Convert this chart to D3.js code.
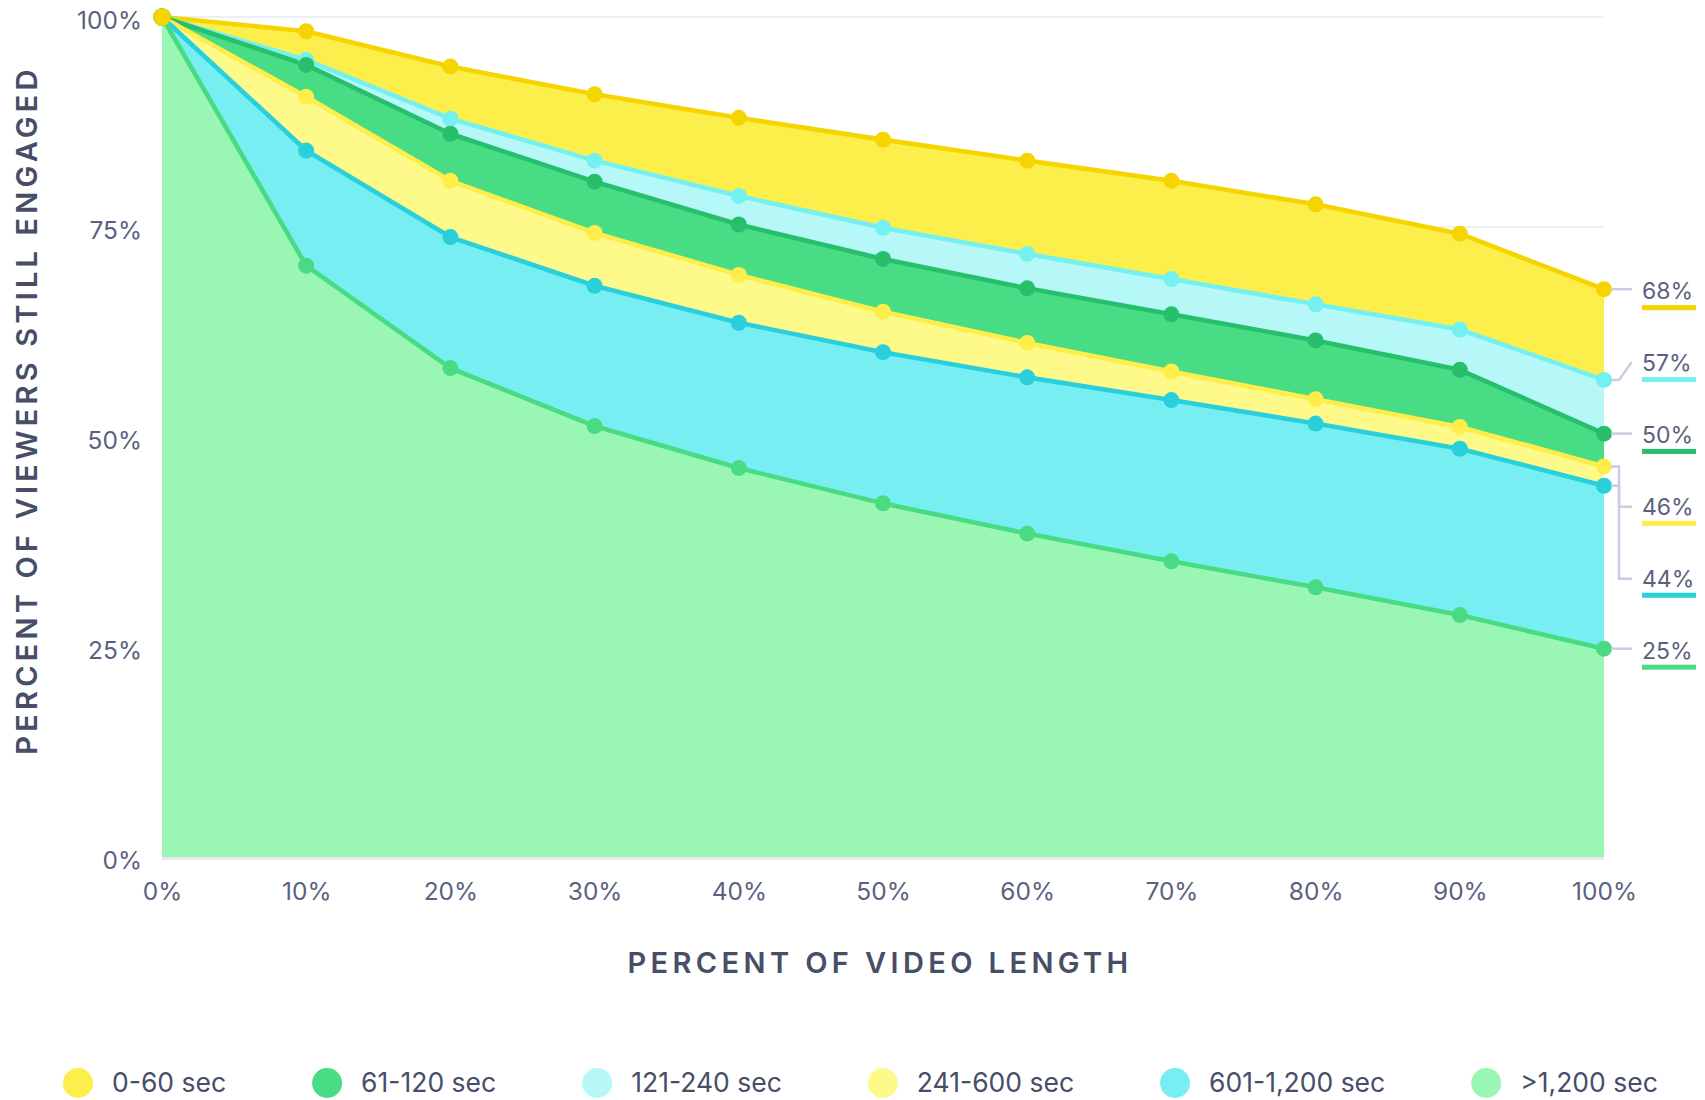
<!DOCTYPE html>
<html>
<head>
<meta charset="utf-8">
<script src="https://cdn.jsdelivr.net/npm/d3@7"></script>
<style>
  html, body { margin: 0; padding: 0; background: #ffffff; }
  svg { display: block; font-family: "Inter", "Lato", sans-serif; }
</style>
</head>
<body>
<svg id="chart" width="1705" height="1100"></svg>
<script>
// ---------------- data ----------------
const xValues = [0, 10, 20, 30, 40, 50, 60, 70, 80, 90, 100];
const xTickLabels = ["0%", "10%", "20%", "30%", "40%", "50%", "60%", "70%", "80%", "90%", "100%"];
const yTickValues = [0, 25, 50, 75, 100];
const yTickLabels = ["0%", "25%", "50%", "75%", "100%"];

const seriesNames = ["0-60 sec", "61-120 sec", "121-240 sec", "241-600 sec", "601-1,200 sec", ">1,200 sec"];
const s0to60     = [100, 98.3, 94.1, 90.8, 88.0, 85.4, 82.9, 80.5, 77.7, 74.2, 67.6];
const s61to120   = [100, 94.3, 86.1, 80.4, 75.3, 71.2, 67.7, 64.6, 61.5, 58.0, 50.4];
const s121to240  = [100, 94.9, 87.9, 82.9, 78.7, 74.9, 71.8, 68.8, 65.8, 62.8, 56.8];
const s241to600  = [100, 90.5, 80.5, 74.3, 69.3, 64.9, 61.2, 57.8, 54.5, 51.2, 46.5];
const s601to1200 = [100, 84.1, 73.8, 68.0, 63.6, 60.1, 57.1, 54.4, 51.6, 48.6, 44.2];
const sOver1200  = [100, 70.4, 58.2, 51.3, 46.3, 42.1, 38.5, 35.2, 32.1, 28.8, 24.8];
const endLabels  = ["68%", "50%", "57%", "46%", "44%", "25%"]; // per series, same order as seriesNames

const xTitle = "PERCENT OF VIDEO LENGTH";
const yTitle = "PERCENT OF VIEWERS STILL ENGAGED";

// ---------------- styles ----------------
const fillColors = ["#FCEF4C", "#48DC84", "#B6F8F8", "#FEFA8A", "#77EFF2", "#9AF7B3"];
const lineColors = ["#F5D400", "#27BF6B", "#75F0F0", "#FFEE4A", "#2ACFDC", "#48DB84"];
const seriesValues = [s0to60, s61to120, s121to240, s241to600, s601to1200, sOver1200];

const series = seriesNames.map((name, i) => ({
  name, values: seriesValues[i], fill: fillColors[i], line: lineColors[i], label: endLabels[i], idx: i
}));

const W = 1705, H = 1100;
const margin = { left: 162, right: 101, top: 17, bottom: 243 };
const svg = d3.select("#chart");

const x = d3.scaleLinear().domain([0, 100]).range([margin.left, W - margin.right]);
const y = d3.scaleLinear().domain([0, 100]).range([H - margin.bottom, margin.top]);

const tickColor = "#5B6280";
const titleColor = "#464E68";

// gridlines
svg.append("g").selectAll("line").data(yTickValues).join("line")
  .attr("x1", x(0)).attr("x2", x(100))
  .attr("y1", d => y(d) + (d === 0 ? 1.5 : 0)).attr("y2", d => y(d) + (d === 0 ? 1.5 : 0))
  .attr("stroke", d => d === 0 ? "#E6E8F0" : "#EDEFF5")
  .attr("stroke-width", d => d === 0 ? 3 : 2);

// y axis labels
const yAxis = d3.axisLeft(y).tickValues(yTickValues).tickFormat((d, i) => yTickLabels[i]).tickSize(0).tickPadding(0);
const gy = svg.append("g").attr("transform", `translate(${x(0) - 20},4)`).call(yAxis);
gy.select(".domain").remove();
gy.selectAll("text").attr("fill", tickColor).attr("font-size", 24.5).attr("font-family", "Inter, sans-serif");

// x axis labels
const xAxis = d3.axisBottom(x).tickValues(xValues).tickFormat((d, i) => xTickLabels[i]).tickSize(0).tickPadding(0);
const gx = svg.append("g").attr("transform", `translate(0,${y(0) + 26})`).call(xAxis);
gx.select(".domain").remove();
gx.selectAll("text").attr("fill", tickColor).attr("font-size", 24.5).attr("font-family", "Inter, sans-serif");

// areas: draw from highest ending series to lowest
const drawOrder = series.slice().sort((a, b) => b.values[b.values.length - 1] - a.values[a.values.length - 1]);

const area = d3.area().x((d, i) => x(xValues[i])).y0(y(0)).y1(d => y(d));
const line = d3.line().x((d, i) => x(xValues[i])).y(d => y(d));

drawOrder.forEach(s => {
  svg.append("path").attr("d", area(s.values)).attr("fill", s.fill);
});
drawOrder.forEach(s => {
  svg.append("path").attr("d", line(s.values)).attr("fill", "none")
    .attr("stroke", s.line).attr("stroke-width", 4.6).attr("stroke-linejoin", "round");
});
// dots: top series last so it crowns the starting point
const dotOrder = drawOrder.slice(1).concat(drawOrder.slice(0, 1));
dotOrder.forEach(s => {
  svg.append("g").selectAll("circle").data(s.values).join("circle")
    .attr("cx", (d, i) => x(xValues[i])).attr("cy", d => y(d))
    .attr("r", (d, i) => i === 0 ? 8.7 : 8).attr("fill", s.line);
});

// end labels, spaced evenly between top and bottom end points
const last = xValues.length - 1;
const topY = y(drawOrder[0].values[last]);
const botY = y(drawOrder[drawOrder.length - 1].values[last]);
const step = (botY - topY) / (drawOrder.length - 1);
const xEnd = x(100);
const labelX = xEnd + 38;
const elbowX = xEnd + 15;

drawOrder.forEach((s, k) => {
  const py = y(s.values[last]);
  const ly = topY + k * step + 2;
  const straight = Math.abs(py - ly) < 6;
  let d;
  if (straight) {
    d = `M${xEnd + 7},${py}H${xEnd + 28}`;
  } else {
    const p = d3.path();
    p.moveTo(xEnd + 7, py);
    p.lineTo(elbowX, py);
    p.lineTo(elbowX + (ly < py ? 12 : 0), ly);
    p.lineTo(xEnd + 28, ly);
    d = p.toString();
  }
  svg.append("path").attr("d", d)
    .attr("fill", "none").attr("stroke", "#C9CDE0").attr("stroke-width", 2.5);
  svg.append("text").attr("x", labelX).attr("y", ly).attr("dy", "0.35em")
    .attr("fill", tickColor).attr("font-size", 23).text(s.label);
  svg.append("rect").attr("x", labelX).attr("y", ly + 14).attr("width", 54).attr("height", 5)
    .attr("fill", s.line);
});

// axis titles
svg.append("text")
  .attr("x", (x(0) + x(100)) / 2 - 3).attr("y", 963).attr("dy", "0.35em")
  .attr("text-anchor", "middle").attr("fill", titleColor)
  .attr("font-size", 29).attr("font-weight", 600).attr("letter-spacing", 4.4)
  .text(xTitle);
svg.append("text")
  .attr("transform", `translate(27,410) rotate(-90)`).attr("dy", "0.35em")
  .attr("text-anchor", "middle").attr("fill", titleColor)
  .attr("font-size", 29).attr("font-weight", 600).attr("letter-spacing", 4.2)
  .text(yTitle);

// legend
const legend = svg.append("g").attr("transform", "translate(0,1083)");
let cx = 78;
series.forEach(s => {
  legend.append("circle").attr("cx", cx).attr("cy", 0).attr("r", 15).attr("fill", s.fill);
  const t = legend.append("text").attr("x", cx + 34).attr("y", 0).attr("dy", "0.35em")
    .attr("fill", titleColor).attr("font-size", 26.5).text(s.name);
  const w = t.node().getComputedTextLength();
  cx = cx + 34 + w + 101;
});
</script>
</body>
</html>
